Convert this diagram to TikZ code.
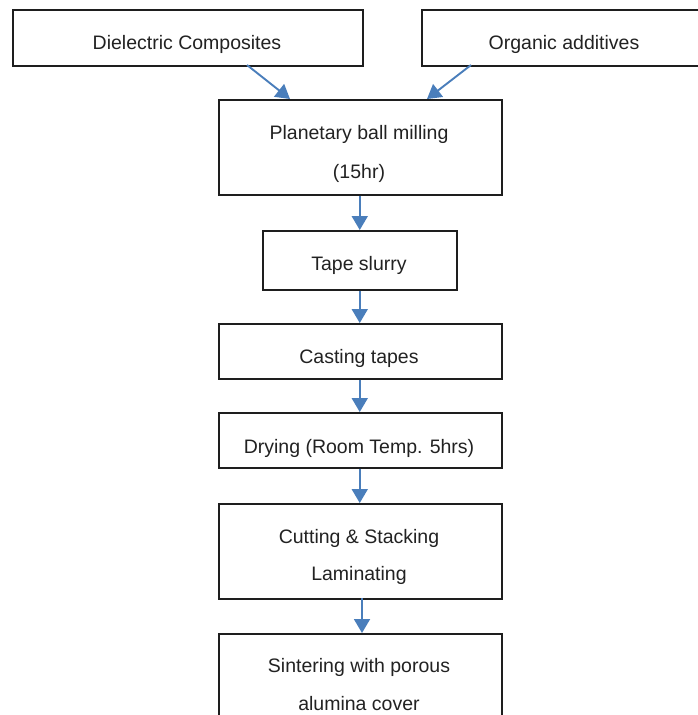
\documentclass[tikz,border=0pt]{standalone}
\usepackage{fontspec}
\setmainfont{Liberation Sans}
\usetikzlibrary{arrows.meta}
\definecolor{arrowblue}{HTML}{4A7EBB}
\definecolor{boxline}{HTML}{1E1E1E}
\definecolor{txt}{HTML}{222222}
\begin{document}
\begin{tikzpicture}[x=1pt,y=-1pt,
  box/.style={draw=boxline,line width=1.5pt,fill=white,inner sep=0pt,anchor=north west},
  lbl/.style={text=txt,font=\fontsize{19.5}{23}\selectfont,inner sep=0pt},
  flow/.style={draw=arrowblue,line width=1.9pt,-{Triangle[width=16pt,length=14pt]}}]
\useasboundingbox (0,0) rectangle (698,715);
\clip (0,0) rectangle (698,715);
% boxes
\node[box,minimum width=350pt,minimum height=56pt] (A) at (12,9) {};
\node[box,minimum width=300pt,minimum height=56pt] (B) at (421,9) {};
\node[box,minimum width=283pt,minimum height=95pt] (C) at (218,99) {};
\node[box,minimum width=194pt,minimum height=59pt] (D) at (262,230) {};
\node[box,minimum width=283pt,minimum height=55pt] (E) at (218,323) {};
\node[box,minimum width=283pt,minimum height=55pt] (F) at (218,412) {};
\node[box,minimum width=283pt,minimum height=95pt] (G) at (218,503) {};
\node[box,minimum width=283pt,minimum height=120pt] (H) at (218,633) {};
% labels
\node[lbl] (tA) at (187,44) {Dielectric Composites};
\node[lbl] (tB) at (564,44) {Organic additives};
\node[lbl] (tC1) at (359,134) {Planetary ball milling};
\node[lbl] (tC2) at (359,173) {(15hr)};
\node[lbl] (tD) at (359,265) {Tape slurry};
\node[lbl] (tE) at (359,358) {Casting tapes};
\node[lbl] (tF) at (359,448) {Drying (Room Temp. 5hrs)};
\node[lbl] (tG1) at (359,538) {Cutting \& Stacking};
\node[lbl] (tG2) at (359,575) {Laminating};
\node[lbl] (tH1) at (359,667) {Sintering with porous};
\node[lbl] (tH2) at (359,704) {alumina cover};
% connector end points
\coordinate (a1) at (247,65);
\coordinate (c1) at (290,99);
\coordinate (b1) at (471,65);
\coordinate (c2) at (427,99);
\coordinate (g1) at (362,598);
\coordinate (h1) at (362,633);
% arrows
\draw[flow] (a1) -- (c1);
\draw[flow] (b1) -- (c2);
\draw[flow] (C.south -| D.north) -- (D.north);
\draw[flow] (D.south) -- (E.north -| D.south);
\draw[flow] (E.south -| D.south) -- (F.north -| D.south);
\draw[flow] (F.south -| D.south) -- (G.north -| D.south);
\draw[flow] (g1) -- (h1);
\end{tikzpicture}
\end{document}
